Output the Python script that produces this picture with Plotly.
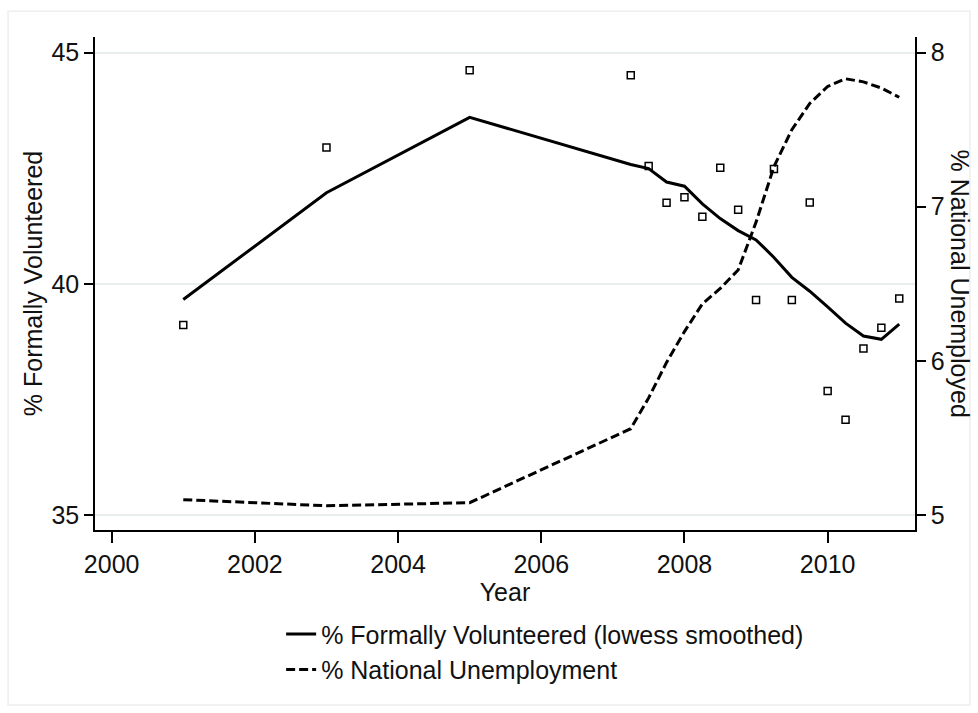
import plotly.graph_objects as go

# ---- data ----
years = [2001, 2003, 2005, 2007.25, 2007.5, 2007.75, 2008.0, 2008.25, 2008.5,
         2008.75, 2009.0, 2009.25, 2009.5, 2009.75, 2010.0, 2010.25, 2010.5,
         2010.75, 2011.0]

pct_volunteered = [39.11, 42.95, 44.62, 44.51, 42.55, 41.75, 41.87, 41.45, 42.51,
                   41.60, 39.65, 42.48, 39.65, 41.76, 37.68, 37.06, 38.60,
                   39.05, 39.68]

lowess_volunteered = [39.66, 41.97, 43.60, 42.58, 42.49, 42.20, 42.11, 41.73, 41.41,
                      41.15, 40.95, 40.57, 40.14, 39.84, 39.50, 39.15, 38.87,
                      38.80, 39.13]

unemployment = [5.10, 5.06, 5.08, 5.56, 5.76, 5.99, 6.19, 6.37, 6.47,
                6.59, 6.90, 7.26, 7.50, 7.67, 7.78, 7.83, 7.81,
                7.77, 7.71]

x_ticks = [2000, 2002, 2004, 2006, 2008, 2010]
y_left_ticks = [35, 40, 45]
y_right_ticks = [5, 6, 7, 8]

FONT = "Liberation Sans, Arial, sans-serif"
TXT = "#111111"

fig = go.Figure()

fig.add_trace(go.Scatter(
    x=years, y=pct_volunteered, mode="markers",
    marker=dict(symbol="square-open", size=7, color="black",
                line=dict(width=1.5, color="black")),
    showlegend=False, yaxis="y", name="obs"))

fig.add_trace(go.Scatter(
    x=years, y=lowess_volunteered, mode="lines",
    line=dict(color="black", width=3),
    name="% Formally Volunteered (lowess smoothed)", yaxis="y"))

fig.add_trace(go.Scatter(
    x=years, y=unemployment, mode="lines",
    line=dict(color="black", width=3, dash="9px,4px"),
    name="% National Unemployment", yaxis="y2"))

fig.update_layout(
    width=978, height=713,
    margin=dict(l=95, r=63, t=37, b=183),
    paper_bgcolor="white", plot_bgcolor="white",
    font=dict(family=FONT, size=25, color=TXT),
    xaxis=dict(
        range=[1999.767, 2011.22], tickvals=x_ticks,
        ticks="outside", ticklen=11, tickwidth=1.5, tickcolor="black",
        showline=True, linecolor="black", linewidth=1.5,
        showgrid=False, zeroline=False,
        tickfont=dict(size=25, color=TXT),
        title=dict(text="Year", font=dict(size=25, color=TXT), standoff=0),
    ),
    yaxis=dict(
        range=[34.676, 45.337], tickvals=y_left_ticks,
        ticks="outside", ticklen=9, tickwidth=1.5, tickcolor="black",
        showline=True, linecolor="black", linewidth=1.5,
        showgrid=True, gridcolor="#e9efef", gridwidth=1.5, zeroline=False,
        tickfont=dict(size=25, color=TXT),
        title=dict(text="% Formally Volunteered", font=dict(size=25, color=TXT), standoff=2),
    ),
    yaxis2=dict(
        range=[4.903, 8.101], tickvals=y_right_ticks,
        overlaying="y", side="right",
        ticks="outside", ticklen=9, tickwidth=1.5, tickcolor="black",
        showline=True, linecolor="black", linewidth=1.5,
        showgrid=False, zeroline=False,
        tickfont=dict(size=25, color=TXT),
    ),
    legend=dict(
        x=0.227, y=-0.165, xanchor="left", yanchor="top",
        orientation="v", bgcolor="rgba(0,0,0,0)",
        font=dict(size=25, color=TXT), tracegroupgap=0,
    ),
    annotations=[dict(
        text="% National Unemployed", textangle=90,
        xref="paper", yref="paper", x=1.056, y=0.5,
        xanchor="center", yanchor="middle", showarrow=False,
        font=dict(size=25, color=TXT),
    )],
    shapes=[dict(
        type="rect", xref="paper", yref="paper",
        x0=-0.106, x1=1.067, y0=-0.355, y1=1.052,
        line=dict(color="#eeeeee", width=1.5), fillcolor="rgba(0,0,0,0)",
        layer="below",
    )],
)

fig.write_html("out.html")
